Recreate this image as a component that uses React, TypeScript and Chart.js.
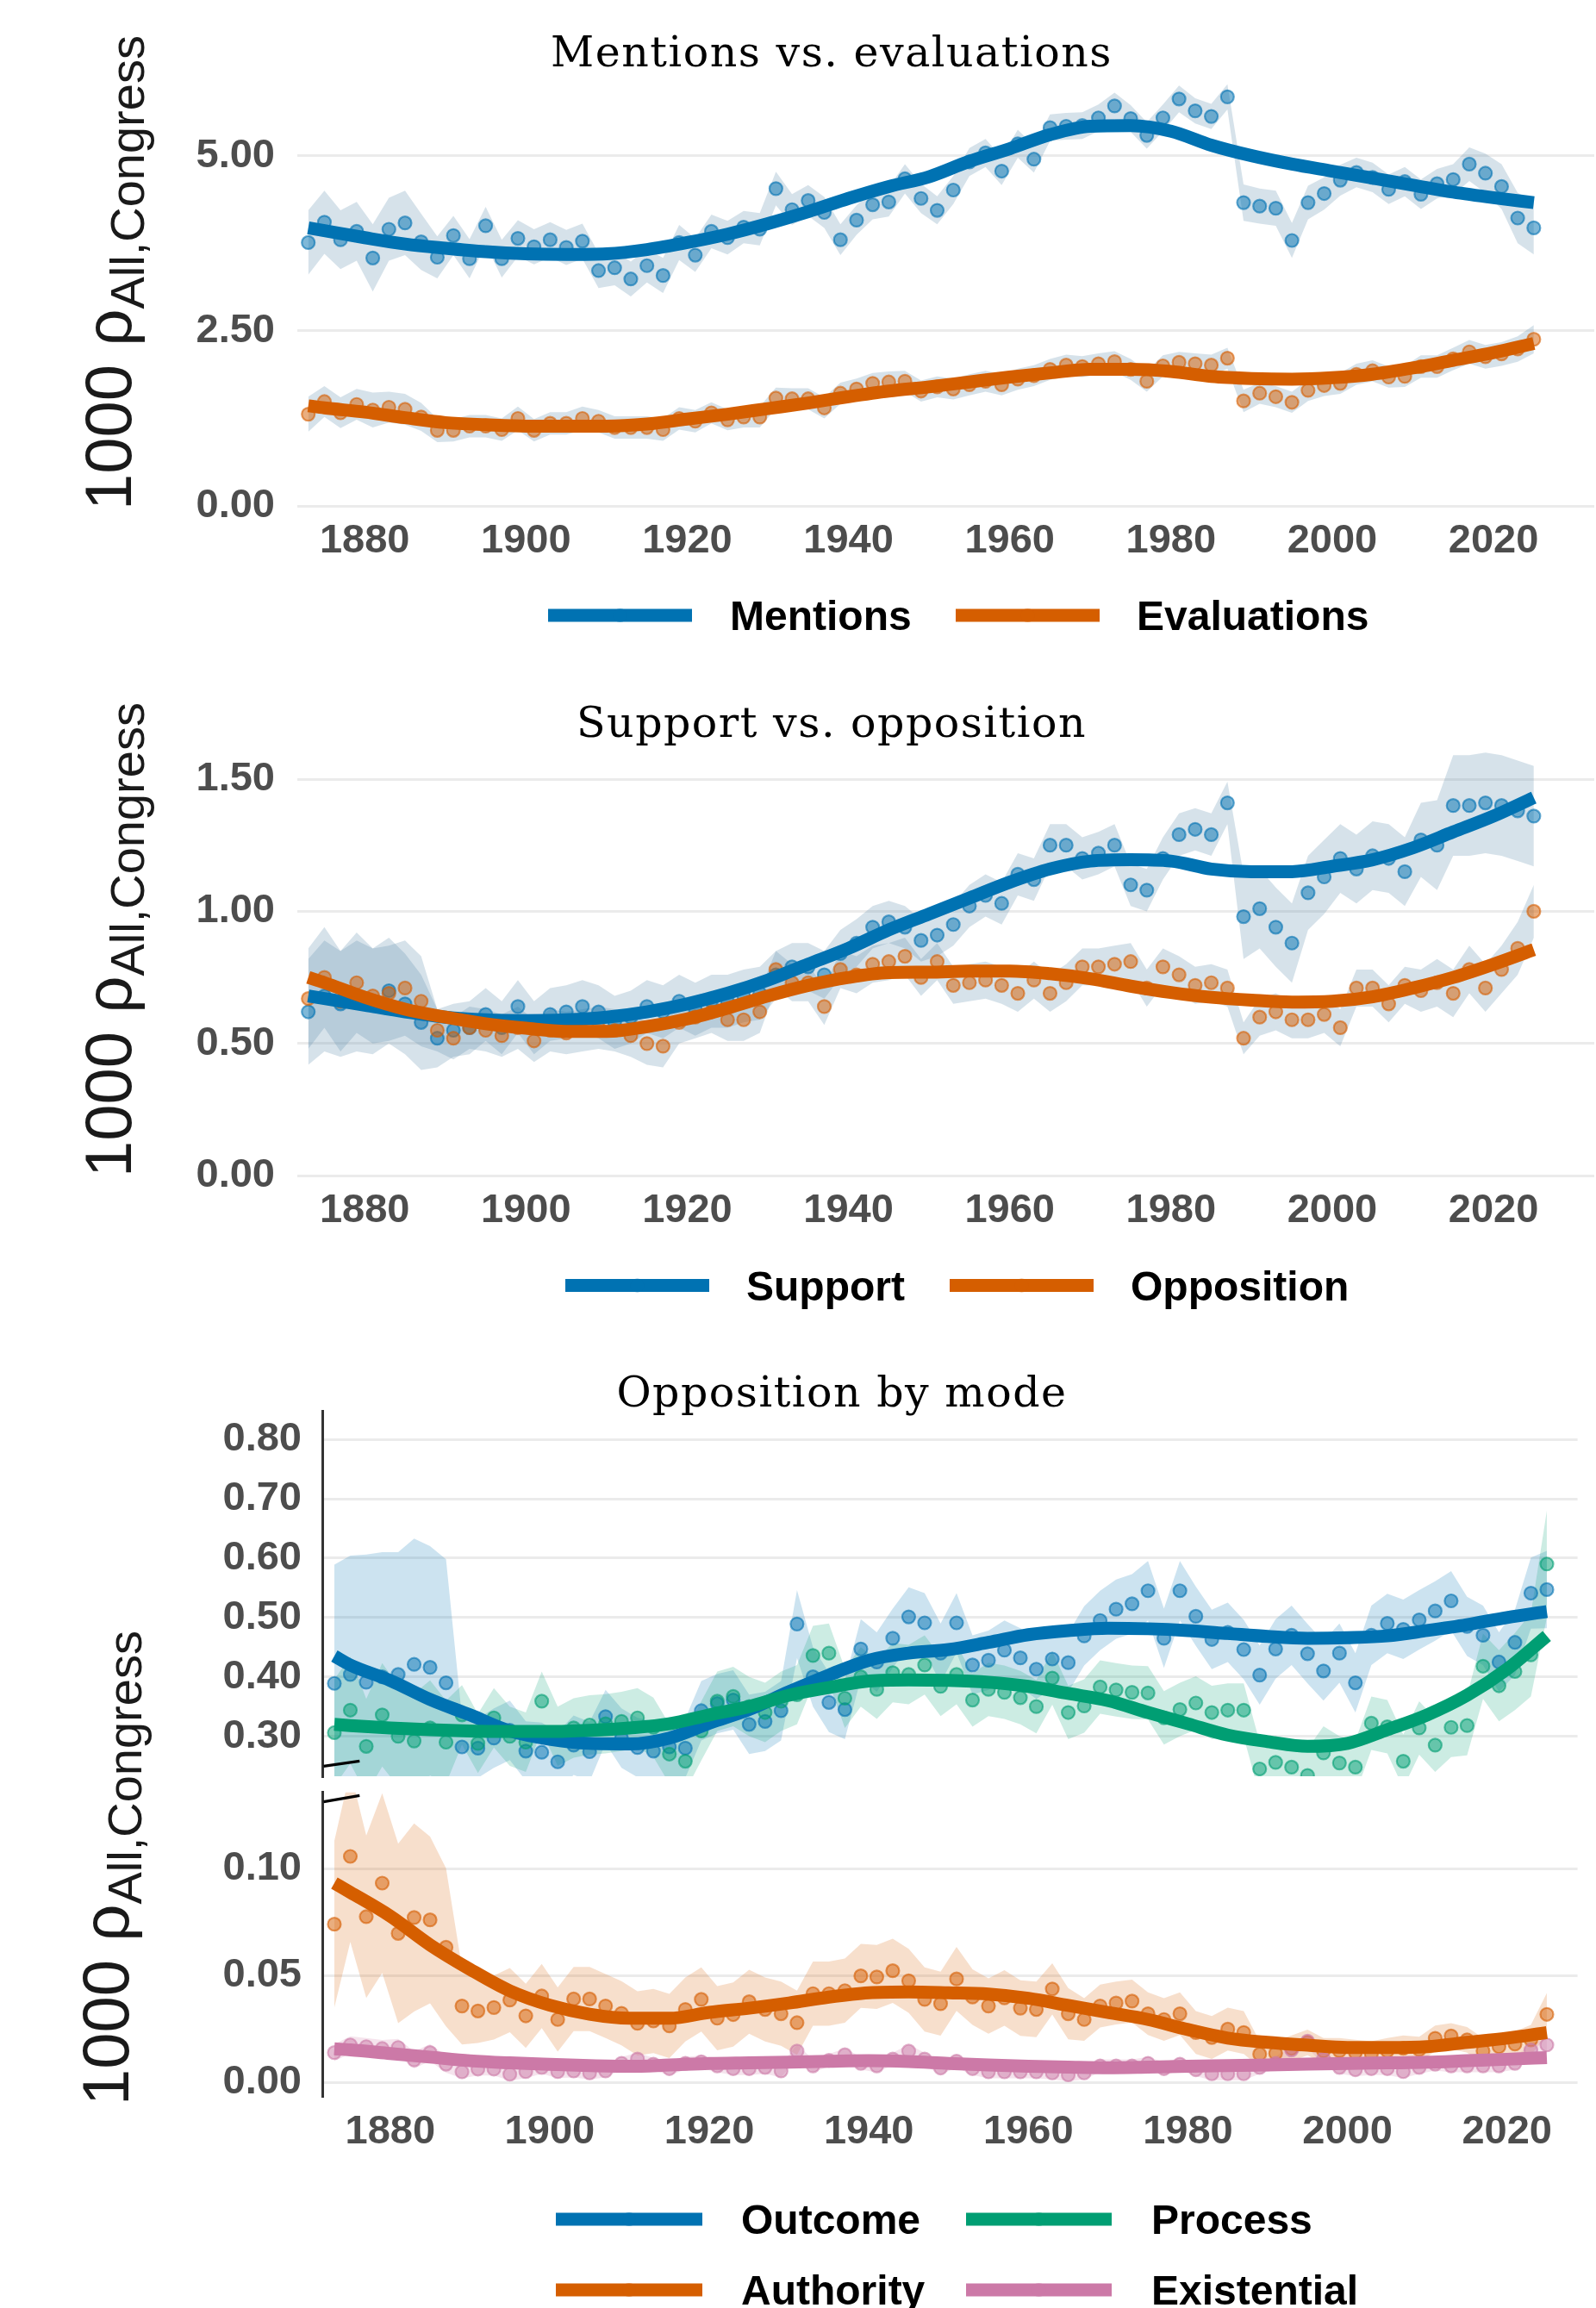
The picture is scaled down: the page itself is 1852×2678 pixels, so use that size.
import React, { useEffect, useRef } from 'react';
import { Chart, registerables } from 'chart.js';

Chart.register(...registerables);

// ---------------- data ----------------
// Congress years (every two years, 1873 … 2025)
const YEARS: number[] = Array.from({ length: 77 }, (_, i) => 1873 + 2 * i);
// years at which the smoothed fit is sampled
const FIT_YEARS = [1873, 1875, 1880, 1885, 1890, 1895, 1900, 1905, 1910, 1915, 1920, 1925, 1930, 1935, 1940, 1945,
  1950, 1955, 1960, 1965, 1970, 1975, 1980, 1985, 1990, 1995, 2000, 2005, 2010, 2015, 2020, 2025];
const X_TICKS = [1880, 1900, 1920, 1940, 1960, 1980, 2000, 2020];

// Panel 1: Mentions vs. evaluations
const MENTIONS = [
  3.76, 4.05, 3.80, 3.92, 3.54, 3.95, 4.04, 3.77, 3.55, 3.86,
  3.53, 4.00, 3.53, 3.82, 3.70, 3.80, 3.69, 3.78, 3.36, 3.40,
  3.24, 3.43, 3.29, 3.76, 3.58, 3.92, 3.83, 3.98, 3.95, 4.53,
  4.23, 4.36, 4.19, 3.80, 4.08, 4.30, 4.34, 4.67, 4.39, 4.22,
  4.51, 4.91, 5.04, 4.78, 5.17, 4.95, 5.40, 5.42, 5.43, 5.54,
  5.71, 5.53, 5.29, 5.54, 5.81, 5.64, 5.56, 5.84, 4.33, 4.28,
  4.25, 3.79, 4.33, 4.46, 4.65, 4.76, 4.69, 4.52, 4.63, 4.45,
  4.60, 4.66, 4.88, 4.75, 4.56, 4.11, 3.97];
const MENTIONS_CI = [
  0.46, 0.45, 0.42, 0.42, 0.48, 0.45, 0.46, 0.40, 0.30, 0.28,
  0.28, 0.27, 0.27, 0.26, 0.25, 0.25, 0.25, 0.25, 0.25, 0.25,
  0.25, 0.24, 0.25, 0.25, 0.24, 0.24, 0.24, 0.23, 0.23, 0.24,
  0.22, 0.22, 0.22, 0.22, 0.21, 0.21, 0.21, 0.21, 0.21, 0.20,
  0.20, 0.20, 0.20, 0.20, 0.20, 0.19, 0.19, 0.19, 0.19, 0.19,
  0.19, 0.19, 0.19, 0.19, 0.19, 0.18, 0.18, 0.18, 0.26, 0.25,
  0.25, 0.25, 0.24, 0.23, 0.22, 0.21, 0.21, 0.21, 0.21, 0.21,
  0.21, 0.22, 0.24, 0.28, 0.32, 0.36, 0.38];
const MENTIONS_FIT = [3.97, 3.93, 3.83, 3.74, 3.68, 3.63, 3.60, 3.59, 3.60, 3.66, 3.76, 3.88, 4.03, 4.20, 4.39, 4.56,
  4.70, 4.92, 5.10, 5.30, 5.42, 5.43, 5.35, 5.15, 5.00, 4.88, 4.78, 4.68, 4.58, 4.48, 4.40, 4.33];

const EVALUATIONS = [
  1.31, 1.49, 1.33, 1.45, 1.37, 1.41, 1.38, 1.27, 1.08, 1.08,
  1.14, 1.14, 1.09, 1.25, 1.08, 1.18, 1.18, 1.25, 1.21, 1.12,
  1.12, 1.12, 1.09, 1.25, 1.21, 1.33, 1.23, 1.27, 1.27, 1.54,
  1.53, 1.53, 1.40, 1.61, 1.67, 1.75, 1.77, 1.78, 1.64, 1.70,
  1.67, 1.73, 1.78, 1.73, 1.81, 1.86, 1.95, 2.01, 1.99, 2.03,
  2.06, 1.95, 1.78, 2.00, 2.05, 2.03, 2.01, 2.11, 1.50, 1.61,
  1.56, 1.48, 1.65, 1.72, 1.75, 1.88, 1.93, 1.84, 1.85, 1.99,
  1.99, 2.10, 2.20, 2.13, 2.17, 2.24, 2.38];
const EVALUATIONS_CI = [
  0.25, 0.22, 0.22, 0.22, 0.25, 0.22, 0.22, 0.20, 0.17, 0.16,
  0.16, 0.16, 0.16, 0.17, 0.16, 0.16, 0.16, 0.17, 0.16, 0.16,
  0.16, 0.16, 0.16, 0.16, 0.16, 0.15, 0.15, 0.15, 0.15, 0.15,
  0.15, 0.15, 0.15, 0.15, 0.15, 0.15, 0.15, 0.15, 0.15, 0.15,
  0.15, 0.15, 0.15, 0.15, 0.15, 0.15, 0.15, 0.15, 0.15, 0.15,
  0.15, 0.15, 0.15, 0.15, 0.15, 0.15, 0.15, 0.15, 0.16, 0.15,
  0.15, 0.15, 0.15, 0.15, 0.15, 0.15, 0.15, 0.15, 0.15, 0.16,
  0.16, 0.16, 0.17, 0.17, 0.17, 0.18, 0.20];
const EVALUATIONS_FIT = [1.43, 1.40, 1.34, 1.26, 1.19, 1.16, 1.14, 1.14, 1.14, 1.17, 1.24, 1.31, 1.39, 1.47, 1.56, 1.64,
  1.70, 1.77, 1.84, 1.90, 1.95, 1.95, 1.92, 1.85, 1.82, 1.81, 1.83, 1.88, 1.97, 2.08, 2.19, 2.32];

// Panel 2: Support vs. opposition
const SUPPORT = [
  0.62, 0.68, 0.65, 0.68, 0.66, 0.70, 0.65, 0.58, 0.52, 0.55,
  0.56, 0.61, 0.56, 0.64, 0.56, 0.61, 0.62, 0.64, 0.62, 0.58,
  0.60, 0.64, 0.62, 0.66, 0.63, 0.66, 0.66, 0.68, 0.69, 0.76,
  0.79, 0.79, 0.76, 0.84, 0.88, 0.94, 0.96, 0.94, 0.89, 0.91,
  0.95, 1.02, 1.06, 1.03, 1.14, 1.12, 1.25, 1.25, 1.20, 1.22,
  1.25, 1.10, 1.08, 1.20, 1.29, 1.31, 1.29, 1.41, 0.98, 1.01,
  0.94, 0.88, 1.07, 1.13, 1.20, 1.16, 1.21, 1.20, 1.15, 1.27,
  1.25, 1.40, 1.40, 1.41, 1.40, 1.38, 1.36];
const SUPPORT_CI = [
  0.20, 0.21, 0.20, 0.21, 0.20, 0.20, 0.19, 0.18, 0.11, 0.10,
  0.10, 0.10, 0.10, 0.10, 0.10, 0.10, 0.10, 0.10, 0.10, 0.10,
  0.10, 0.10, 0.10, 0.10, 0.10, 0.10, 0.10, 0.10, 0.10, 0.09,
  0.09, 0.09, 0.09, 0.09, 0.09, 0.08, 0.08, 0.08, 0.08, 0.08,
  0.08, 0.08, 0.08, 0.08, 0.08, 0.08, 0.08, 0.08, 0.08, 0.08,
  0.08, 0.08, 0.08, 0.08, 0.08, 0.08, 0.08, 0.08, 0.16, 0.15,
  0.15, 0.15, 0.14, 0.14, 0.13, 0.13, 0.13, 0.13, 0.13, 0.14,
  0.17, 0.19, 0.19, 0.19, 0.19, 0.19, 0.19];
const SUPPORT_FIT = [0.68, 0.67, 0.645, 0.62, 0.60, 0.59, 0.587, 0.59, 0.60, 0.62, 0.65, 0.69, 0.74, 0.80, 0.86, 0.93,
  0.99, 1.05, 1.11, 1.16, 1.19, 1.195, 1.19, 1.16, 1.15, 1.15, 1.17, 1.195, 1.24, 1.30, 1.36, 1.43];

const OPPOSITION = [
  0.67, 0.75, 0.66, 0.73, 0.68, 0.69, 0.71, 0.66, 0.55, 0.52,
  0.56, 0.55, 0.53, 0.56, 0.51, 0.55, 0.54, 0.55, 0.56, 0.55,
  0.53, 0.50, 0.49, 0.58, 0.60, 0.62, 0.59, 0.59, 0.62, 0.78,
  0.73, 0.73, 0.64, 0.78, 0.76, 0.80, 0.81, 0.83, 0.75, 0.81,
  0.72, 0.73, 0.74, 0.72, 0.69, 0.74, 0.69, 0.73, 0.79, 0.79,
  0.80, 0.81, 0.71, 0.79, 0.76, 0.72, 0.73, 0.71, 0.52, 0.60,
  0.62, 0.59, 0.59, 0.61, 0.56, 0.71, 0.71, 0.65, 0.72, 0.70,
  0.73, 0.69, 0.78, 0.71, 0.78, 0.86, 1.00];
const OPPOSITION_CI = [
  0.19, 0.19, 0.19, 0.19, 0.18, 0.18, 0.18, 0.17, 0.08, 0.08,
  0.08, 0.08, 0.08, 0.08, 0.08, 0.08, 0.08, 0.08, 0.08, 0.08,
  0.08, 0.08, 0.08, 0.08, 0.08, 0.08, 0.08, 0.08, 0.08, 0.07,
  0.07, 0.07, 0.07, 0.07, 0.07, 0.07, 0.07, 0.07, 0.07, 0.07,
  0.07, 0.07, 0.07, 0.07, 0.07, 0.07, 0.07, 0.07, 0.07, 0.07,
  0.07, 0.07, 0.07, 0.07, 0.07, 0.07, 0.07, 0.07, 0.06, 0.07,
  0.07, 0.07, 0.07, 0.07, 0.07, 0.07, 0.07, 0.07, 0.07, 0.08,
  0.09, 0.09, 0.09, 0.09, 0.09, 0.10, 0.10];
const OPPOSITION_FIT = [0.75, 0.73, 0.675, 0.63, 0.60, 0.575, 0.558, 0.546, 0.546, 0.564, 0.593, 0.634, 0.68, 0.72, 0.75,
  0.768, 0.770, 0.774, 0.774, 0.764, 0.745, 0.717, 0.693, 0.675, 0.664, 0.657, 0.660, 0.677, 0.71, 0.75, 0.80, 0.855];

// Panel 3: Opposition by mode
const OUTCOME = [
  0.389, 0.404, 0.391, 0.400, 0.404, 0.421, 0.416, 0.390, 0.282, 0.280,
  0.297, 0.310, 0.275, 0.273, 0.257, 0.285, 0.274, 0.333, 0.297, 0.281,
  0.275, 0.282, 0.280, 0.343, 0.355, 0.361, 0.320, 0.325, 0.343, 0.489,
  0.400, 0.357, 0.345, 0.447, 0.425, 0.465, 0.501, 0.491, 0.440, 0.491,
  0.420, 0.428, 0.445, 0.432, 0.413, 0.430, 0.424, 0.469, 0.495, 0.514,
  0.523, 0.545, 0.465, 0.545, 0.502, 0.463, 0.475, 0.446, 0.403, 0.447,
  0.470, 0.439, 0.410, 0.440, 0.390, 0.470, 0.490, 0.480, 0.496, 0.511,
  0.528, 0.485, 0.470, 0.425, 0.458, 0.541, 0.547];
const OUTCOME_CI = [
  0.200, 0.200, 0.215, 0.210, 0.206, 0.212, 0.204, 0.208, 0.050, 0.050,
  0.050, 0.050, 0.050, 0.050, 0.050, 0.050, 0.050, 0.045, 0.050, 0.050,
  0.050, 0.050, 0.050, 0.050, 0.050, 0.050, 0.050, 0.050, 0.050, 0.057,
  0.050, 0.050, 0.050, 0.050, 0.050, 0.050, 0.050, 0.050, 0.050, 0.050,
  0.050, 0.050, 0.050, 0.050, 0.050, 0.050, 0.050, 0.050, 0.050, 0.050,
  0.050, 0.050, 0.050, 0.050, 0.050, 0.050, 0.050, 0.050, 0.050, 0.050,
  0.050, 0.050, 0.050, 0.050, 0.050, 0.050, 0.050, 0.050, 0.050, 0.050,
  0.050, 0.050, 0.050, 0.050, 0.055, 0.060, 0.065];
const OUTCOME_FIT = [0.435, 0.420, 0.394, 0.362, 0.336, 0.309, 0.295, 0.288, 0.287, 0.297, 0.322, 0.345, 0.375, 0.403,
  0.428, 0.440, 0.446, 0.458, 0.471, 0.478, 0.482, 0.481, 0.478, 0.473, 0.468, 0.465, 0.466, 0.469, 0.478, 0.488, 0.500, 0.510];

const PROCESS = [
  0.306, 0.344, 0.283, 0.336, 0.300, 0.292, 0.314, 0.290, 0.336, 0.288,
  0.331, 0.300, 0.290, 0.359, 0.300, 0.314, 0.319, 0.321, 0.325, 0.331,
  0.315, 0.270, 0.258, 0.309, 0.359, 0.367, 0.350, 0.340, 0.359, 0.370,
  0.436, 0.440, 0.364, 0.400, 0.379, 0.407, 0.404, 0.420, 0.384, 0.404,
  0.361, 0.379, 0.374, 0.365, 0.350, 0.398, 0.340, 0.351, 0.383, 0.378,
  0.374, 0.373, 0.331, 0.345, 0.356, 0.340, 0.344, 0.344, 0.245, 0.256,
  0.248, 0.234, 0.272, 0.255, 0.248, 0.322, 0.316, 0.258, 0.314, 0.285,
  0.315, 0.318, 0.418, 0.385, 0.409, 0.437, 0.590];
const PROCESS_CI = [
  0.090, 0.090, 0.080, 0.087, 0.085, 0.080, 0.080, 0.070, 0.050, 0.050,
  0.050, 0.050, 0.050, 0.050, 0.050, 0.050, 0.050, 0.050, 0.050, 0.050,
  0.050, 0.050, 0.050, 0.050, 0.050, 0.050, 0.050, 0.050, 0.050, 0.050,
  0.050, 0.050, 0.050, 0.050, 0.050, 0.050, 0.050, 0.050, 0.050, 0.050,
  0.045, 0.045, 0.045, 0.045, 0.045, 0.045, 0.045, 0.045, 0.045, 0.045,
  0.045, 0.045, 0.045, 0.045, 0.045, 0.045, 0.045, 0.045, 0.045, 0.045,
  0.045, 0.045, 0.045, 0.045, 0.045, 0.045, 0.045, 0.045, 0.045, 0.045,
  0.050, 0.050, 0.055, 0.060, 0.065, 0.070, 0.090];
const PROCESS_FIT = [0.320, 0.318, 0.314, 0.311, 0.309, 0.308, 0.308, 0.310, 0.314, 0.321, 0.336, 0.350, 0.369, 0.382,
  0.393, 0.395, 0.394, 0.391, 0.384, 0.372, 0.360, 0.340, 0.321, 0.302, 0.291, 0.283, 0.288, 0.311, 0.336, 0.369, 0.413, 0.469];

const AUTHORITY = [
  0.0741, 0.1058, 0.0776, 0.0933, 0.0698, 0.0772, 0.0761, 0.0633, 0.0358, 0.0335,
  0.0351, 0.0386, 0.0312, 0.0405, 0.0295, 0.0391, 0.0391, 0.0358, 0.0324, 0.0277,
  0.0288, 0.0265, 0.0342, 0.0389, 0.0301, 0.0318, 0.0378, 0.0342, 0.0322, 0.0280,
  0.0416, 0.0416, 0.0430, 0.0499, 0.0494, 0.0523, 0.0476, 0.0389, 0.0369, 0.0485,
  0.0400, 0.0358, 0.0396, 0.0348, 0.0342, 0.0438, 0.0322, 0.0295, 0.0358, 0.0372,
  0.0381, 0.0322, 0.0295, 0.0322, 0.0234, 0.0211, 0.0250, 0.0234, 0.0133, 0.0137,
  0.0160, 0.0188, 0.0148, 0.0148, 0.0140, 0.0133, 0.0148, 0.0160, 0.0154, 0.0207,
  0.0218, 0.0200, 0.0148, 0.0168, 0.0180, 0.0200, 0.0319];
const AUTHORITY_CI = [
  0.039, 0.040, 0.038, 0.042, 0.042, 0.044, 0.039, 0.037, 0.018, 0.015,
  0.015, 0.015, 0.015, 0.015, 0.015, 0.015, 0.015, 0.015, 0.015, 0.015,
  0.015, 0.015, 0.015, 0.015, 0.015, 0.015, 0.015, 0.015, 0.015, 0.015,
  0.015, 0.015, 0.015, 0.015, 0.015, 0.015, 0.015, 0.015, 0.015, 0.015,
  0.013, 0.013, 0.013, 0.013, 0.013, 0.012, 0.012, 0.010, 0.010, 0.010,
  0.010, 0.010, 0.010, 0.010, 0.010, 0.010, 0.010, 0.010, 0.006, 0.006,
  0.006, 0.006, 0.006, 0.006, 0.006, 0.006, 0.006, 0.006, 0.006, 0.006,
  0.006, 0.006, 0.006, 0.006, 0.006, 0.007, 0.010];
const AUTHORITY_FIT = [0.0933, 0.0890, 0.0779, 0.0644, 0.0530, 0.0429, 0.0362, 0.0320, 0.0301, 0.0301, 0.0328, 0.0348,
  0.0372, 0.0400, 0.0420, 0.0424, 0.0420, 0.0414, 0.0394, 0.0361, 0.0328, 0.0295, 0.0248, 0.0208, 0.0188, 0.0175,
  0.0164, 0.0164, 0.0168, 0.0188, 0.0208, 0.0234];

const EXISTENTIAL = [
  0.0140, 0.0176, 0.0168, 0.0159, 0.0164, 0.0106, 0.0140, 0.0086, 0.0050, 0.0063,
  0.0063, 0.0039, 0.0051, 0.0071, 0.0051, 0.0054, 0.0045, 0.0054, 0.0090, 0.0110,
  0.0086, 0.0065, 0.0090, 0.0097, 0.0078, 0.0065, 0.0065, 0.0071, 0.0054, 0.0147,
  0.0078, 0.0104, 0.0130, 0.0090, 0.0078, 0.0110, 0.0147, 0.0110, 0.0068, 0.0100,
  0.0065, 0.0050, 0.0050, 0.0050, 0.0050, 0.0045, 0.0036, 0.0045, 0.0078, 0.0078,
  0.0078, 0.0090, 0.0065, 0.0086, 0.0060, 0.0041, 0.0041, 0.0041, 0.0071, 0.0090,
  0.0152, 0.0194, 0.0110, 0.0071, 0.0060, 0.0065, 0.0065, 0.0051, 0.0071, 0.0086,
  0.0078, 0.0078, 0.0078, 0.0078, 0.0090, 0.0152, 0.0176];
const EXISTENTIAL_CI = [
  0.004, 0.004, 0.004, 0.004, 0.004, 0.004, 0.004, 0.004, 0.003, 0.003,
  0.003, 0.003, 0.003, 0.003, 0.003, 0.003, 0.003, 0.003, 0.003, 0.003,
  0.003, 0.003, 0.003, 0.003, 0.003, 0.003, 0.003, 0.003, 0.003, 0.003,
  0.003, 0.003, 0.003, 0.003, 0.003, 0.003, 0.003, 0.003, 0.003, 0.003,
  0.003, 0.003, 0.003, 0.003, 0.003, 0.003, 0.003, 0.003, 0.003, 0.003,
  0.003, 0.003, 0.003, 0.003, 0.003, 0.003, 0.003, 0.003, 0.003, 0.003,
  0.003, 0.003, 0.003, 0.003, 0.003, 0.003, 0.003, 0.003, 0.003, 0.003,
  0.003, 0.003, 0.003, 0.003, 0.003, 0.003, 0.003];
const EXISTENTIAL_FIT = [0.0158, 0.0153, 0.0136, 0.0119, 0.0102, 0.0092, 0.0085, 0.0079, 0.0076, 0.0082, 0.0089, 0.0092,
  0.0095, 0.0099, 0.0102, 0.0098, 0.0089, 0.0082, 0.0076, 0.0072, 0.0069, 0.0072, 0.0076, 0.0079, 0.0082, 0.0086,
  0.0089, 0.0092, 0.0095, 0.0102, 0.0109, 0.0117];

// ---------------- style ----------------
const BLUE = '#0072B2';
const ORANGE = '#D55E00';
const GREEN = '#009E73';
const PINK = '#CC79A7';
const GREY_BAND = 'rgba(90,140,170,0.25)';
const TICK_COLOR = '#4D4D4D';
const SANS = '"Liberation Sans", Arial, Helvetica, sans-serif';
const SERIF = '"DejaVu Serif", "Liberation Serif", serif';

function rgba(hex: string, a: number) {
  const n = parseInt(hex.slice(1), 16);
  return `rgba(${(n >> 16) & 255},${(n >> 8) & 255},${n & 255},${a})`;
}

type Series = { vals: number[]; ci: number[]; fit: number[]; color: string; band: string };

function buildDatasets(series: Series[], clip: any) {
  const ds: any[] = [];
  series.forEach((s, si) => {
    ds.push({
      data: YEARS.map((x, i) => ({ x, y: s.vals[i] + s.ci[i] })),
      borderWidth: 0, pointRadius: 0, fill: false, backgroundColor: s.band, borderColor: 'transparent',
      order: 3 - si * 0.01, clip,
    });
    ds.push({
      data: YEARS.map((x, i) => ({ x, y: s.vals[i] - s.ci[i] })),
      borderWidth: 0, pointRadius: 0, fill: '-1', backgroundColor: s.band, borderColor: 'transparent',
      order: 3 - si * 0.01, clip,
    });
  });
  series.forEach((s, si) => {
    ds.push({
      data: YEARS.map((x, i) => ({ x, y: s.vals[i] })),
      showLine: false, pointRadius: 7.5, pointBackgroundColor: rgba(s.color, 0.5),
      pointBorderColor: rgba(s.color, 0.6), pointBorderWidth: 2.2, borderColor: 'transparent',
      order: 2 - si * 0.01, clip,
    });
  });
  series.forEach((s, si) => {
    ds.push({
      data: FIT_YEARS.map((x, i) => ({ x, y: s.fit[i] })),
      borderColor: s.color, borderWidth: 15, pointRadius: 0, fill: false,
      cubicInterpolationMode: 'monotone', borderCapStyle: 'butt', borderJoinStyle: 'round',
      order: 1 - si * 0.01,
    });
  });
  return ds;
}

// ---------------- decorations (titles, legends, axis titles, break marks) in page coords ----------------
function legendItem(ctx: CanvasRenderingContext2D, x0: number, x1: number, y: number, color: string, label: string, tx: number) {
  ctx.fillStyle = color;
  ctx.fillRect(x0, y - 7.5, x1 - x0, 15);
  ctx.beginPath();
  ctx.arc((x0 + x1) / 2, y, 8, 0, Math.PI * 2);
  ctx.fillStyle = rgba(color, 0.5);
  ctx.fill();
  ctx.fillStyle = '#000';
  ctx.font = `bold 48px ${SANS}`;
  ctx.textAlign = 'left';
  ctx.textBaseline = 'alphabetic';
  ctx.fillText(label, tx, y + 17.2);
}

function yTitle(ctx: CanvasRenderingContext2D, xBase: number, yStart: number) {
  ctx.save();
  ctx.translate(xBase, yStart);
  ctx.rotate(-Math.PI / 2);
  ctx.fillStyle = '#1A1A1A';
  ctx.textAlign = 'left';
  ctx.textBaseline = 'alphabetic';
  ctx.font = `76px ${SANS}`;
  const main = '1000 ρ';
  ctx.fillText(main, 0, 0);
  const w = ctx.measureText(main).width;
  ctx.font = `56px ${SANS}`;
  ctx.fillText('All,Congress', w, 15);
  ctx.restore();
}

function drawDecor(ctx: CanvasRenderingContext2D, offY: number) {
  ctx.save();
  ctx.translate(0, -offY);
  // titles
  ctx.fillStyle = '#000';
  ctx.font = `49px ${SERIF}`;
  ctx.textAlign = 'center';
  ctx.textBaseline = 'alphabetic';
  (ctx as any).letterSpacing = '1.5px';
  ctx.fillText('Mentions vs. evaluations', 965, 77);
  ctx.fillText('Support vs. opposition', 965, 855);
  ctx.fillText('Opposition by mode', 977, 1632);
  (ctx as any).letterSpacing = '0px';
  // legends
  legendItem(ctx, 636, 803, 714, BLUE, 'Mentions', 847);
  legendItem(ctx, 1109, 1276, 714, ORANGE, 'Evaluations', 1319);
  legendItem(ctx, 656, 823, 1491.5, BLUE, 'Support', 866);
  legendItem(ctx, 1102, 1269, 1491.5, ORANGE, 'Opposition', 1312);
  legendItem(ctx, 645, 815, 2575, BLUE, 'Outcome', 860);
  legendItem(ctx, 1121, 1290, 2575, GREEN, 'Process', 1336);
  legendItem(ctx, 645, 815, 2657, ORANGE, 'Authority', 860);
  legendItem(ctx, 1121, 1290, 2657, PINK, 'Existential', 1336);
  // y-axis titles
  yTitle(ctx, 152, 592);
  yTitle(ctx, 152, 1366);
  yTitle(ctx, 149, 2443);
  // axis break marks
  ctx.strokeStyle = '#000';
  ctx.lineWidth = 3.3;
  ctx.lineCap = 'butt';
  ctx.beginPath();
  ctx.moveTo(375.5, 2049.3); ctx.lineTo(417.3, 2043.3);
  ctx.moveTo(375.5, 2090.7); ctx.lineTo(417.3, 2083.3);
  ctx.stroke();
  ctx.restore();
}

function decorPlugin(offY: number) {
  return { id: 'decor', afterDraw(chart: any) { drawDecor(chart.ctx, offY); } };
}

type PanelSpec = {
  top: number; height: number; series: Series[];
  yMin: number; yMax: number; yTicks: number[];
  xMin: number; xMax: number; showX: boolean;
  padTop: number; padRight: number; padBottom: number;
  yWidth: number; xHeight: number; xPad: number; yPad: number;
  axisLine: boolean; clip: any;
};

function makeConfig(p: PanelSpec): any {
  const tickFont = { family: SANS, size: 47, weight: 'bold' as const };
  return {
    type: 'line',
    data: { datasets: buildDatasets(p.series, p.clip) },
    options: {
      responsive: false,
      maintainAspectRatio: false,
      animation: false,
      devicePixelRatio: 1,
      events: [],
      layout: { autoPadding: false, padding: { top: p.padTop, right: p.padRight, bottom: p.padBottom, left: 0 } },
      plugins: { legend: { display: false }, tooltip: { enabled: false }, title: { display: false } },
      scales: {
        x: {
          type: 'linear', min: p.xMin, max: p.xMax, display: p.showX,
          grid: { display: false, drawTicks: false },
          border: { display: false },
          afterBuildTicks: (s: any) => { s.ticks = X_TICKS.map((v) => ({ value: v })); },
          afterFit: (s: any) => {
            s.height = p.xHeight;
            s.paddingLeft = 0; s.paddingRight = 0; s.paddingTop = 0; s.paddingBottom = 0;
          },
          ticks: {
            autoSkip: false, maxRotation: 0, minRotation: 0, padding: p.xPad, color: TICK_COLOR,
            font: tickFont, callback: (v: any) => String(v),
          },
        },
        y: {
          type: 'linear', min: p.yMin, max: p.yMax,
          grid: { color: '#EBEBEB', lineWidth: 2.9, drawTicks: false },
          border: { display: p.axisLine, color: '#333333', width: 3 },
          afterBuildTicks: (s: any) => { s.ticks = p.yTicks.map((v) => ({ value: v })); },
          afterFit: (s: any) => {
            s.width = p.yWidth;
            s.paddingLeft = 0; s.paddingRight = 0; s.paddingTop = 0; s.paddingBottom = 0;
          },
          ticks: {
            padding: p.yPad, color: TICK_COLOR, font: tickFont,
            callback: (v: any) => Number(v).toFixed(2),
          },
        },
      },
    },
    plugins: [decorPlugin(p.top)],
  };
}

const PANELS: PanelSpec[] = [
  {
    top: 0, height: 780,
    series: [
      { vals: MENTIONS, ci: MENTIONS_CI, fit: MENTIONS_FIT, color: BLUE, band: GREY_BAND },
      { vals: EVALUATIONS, ci: EVALUATIONS_CI, fit: EVALUATIONS_FIT, color: ORANGE, band: GREY_BAND },
    ],
    yMin: -0.05, yMax: 6.3, yTicks: [0, 2.5, 5],
    xMin: 1871.64, xMax: 2032.5, showX: true,
    padTop: 74.97, padRight: 2, padBottom: 0, yWidth: 345, xHeight: 188.84, xPad: 8.3, yPad: 26,
    axisLine: false, clip: undefined,
  },
  {
    top: 780, height: 780,
    series: [
      { vals: SUPPORT, ci: SUPPORT_CI, fit: SUPPORT_FIT, color: BLUE, band: GREY_BAND },
      { vals: OPPOSITION, ci: OPPOSITION_CI, fit: OPPOSITION_FIT, color: ORANGE, band: GREY_BAND },
    ],
    yMin: -0.03, yMax: 1.70, yTicks: [0, 0.5, 1, 1.5],
    xMin: 1871.64, xMax: 2032.5, showX: true,
    padTop: 62.6, padRight: 2, padBottom: 0, yWidth: 345, xHeight: 186.5, xPad: 3.2, yPad: 26,
    axisLine: false, clip: undefined,
  },
  {
    top: 1560, height: 510,
    series: [
      { vals: OUTCOME, ci: OUTCOME_CI, fit: OUTCOME_FIT, color: BLUE, band: rgba(BLUE, 0.2) },
      { vals: PROCESS, ci: PROCESS_CI, fit: PROCESS_FIT, color: GREEN, band: rgba(GREEN, 0.2) },
    ],
    yMin: 0.23267, yMax: 0.84796, yTicks: [0.3, 0.4, 0.5, 0.6, 0.7, 0.8],
    xMin: 1871.49, xMax: 2028.85, showX: false,
    padTop: 77, padRight: 21.4, padBottom: 9, yWidth: 374, xHeight: 0, xPad: 0, yPad: 24,
    axisLine: true, clip: 0,
  },
  {
    top: 2070, height: 608,
    series: [
      { vals: AUTHORITY, ci: AUTHORITY_CI, fit: AUTHORITY_FIT, color: ORANGE, band: rgba(ORANGE, 0.2) },
      { vals: EXISTENTIAL, ci: EXISTENTIAL_CI, fit: EXISTENTIAL_FIT, color: PINK, band: rgba(PINK, 0.2) },
    ],
    yMin: -0.00649, yMax: 0.13589, yTicks: [0, 0.05, 0.1],
    xMin: 1871.49, xMax: 2028.85, showX: true,
    padTop: 9.4, padRight: 21.4, padBottom: 0, yWidth: 374, xHeight: 245.5, xPad: 13.7, yPad: 24,
    axisLine: true, clip: 0,
  },
];

function Panel({ spec }: { spec: PanelSpec }) {
  const ref = useRef<HTMLCanvasElement | null>(null);
  useEffect(() => {
    if (!ref.current) return;
    const chart = new Chart(ref.current, makeConfig(spec));
    return () => chart.destroy();
  }, [spec]);
  return (
    <canvas
      ref={ref}
      width={1852}
      height={spec.height}
      style={{ position: 'absolute', left: 0, top: spec.top, width: 1852, height: spec.height, display: 'block' }}
    />
  );
}

export default function App() {
  return (
    <div style={{ position: 'absolute', left: 0, top: 0, width: 1852, height: 2678, overflow: 'hidden', background: '#fff' }}>
      {PANELS.map((p, i) => <Panel key={i} spec={p} />)}
    </div>
  );
}
